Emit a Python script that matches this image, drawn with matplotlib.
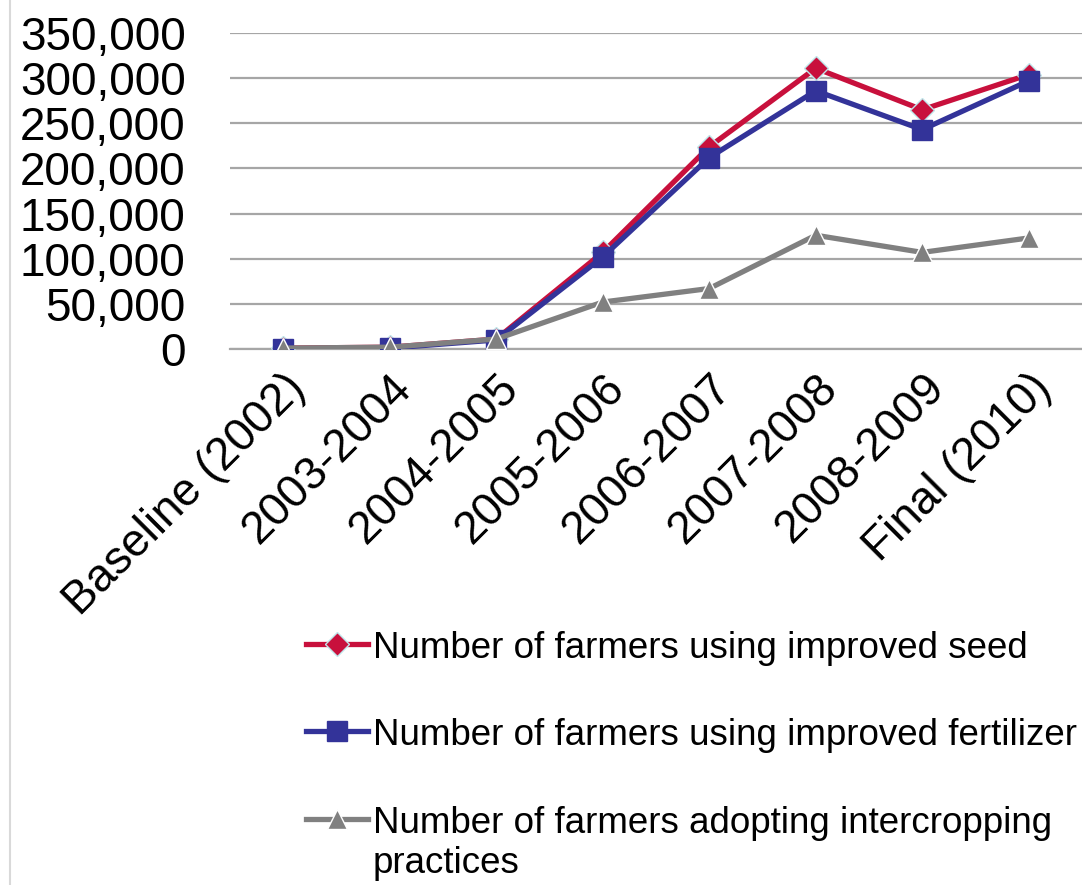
import matplotlib
matplotlib.use("Agg")
import matplotlib.pyplot as plt
from matplotlib.lines import Line2D
from matplotlib.ticker import FuncFormatter

plt.rcParams['font.family'] = ['Liberation Sans', 'DejaVu Sans']

# donnees
periodes = ["Baseline (2002)", "2003-2004", "2004-2005", "2005-2006",
            "2006-2007", "2007-2008", "2008-2009", "Final (2010)"]
semences = [1000, 2000, 11000, 107000, 224000, 311000, 265000, 304000]
engrais = [0, 1000, 10000, 102000, 212000, 286000, 243000, 297000]
intercalaire = [1000, 2000, 11000, 52000, 67000, 126000, 107000, 123000]
noms = ["Number of farmers using improved seed",
        "Number of farmers using improved fertilizer",
        "Number of farmers adopting intercropping\npractices"]
yticks = [0, 50000, 100000, 150000, 200000, 250000, 300000, 350000]

fig = plt.figure(figsize=(10.82, 8.85), dpi=100)
ax = fig.add_axes([230 / 1082, 1 - 349 / 885, 1 - 230 / 1082, (349 - 33) / 885])

x = range(len(periodes))
ax.plot(x, semences, color="#C8103C", lw=3.8, marker="D", ms=12,
        markeredgecolor="#BFE6EA", markeredgewidth=1, label=noms[0], zorder=3)
ax.plot(x, engrais, color="#333399", lw=3.8, marker="s", ms=14,
        markeredgecolor="#333399", label=noms[1], zorder=4)
ax.plot(x, intercalaire, color="#808080", lw=3.8, marker="^", ms=14,
        markeredgecolor="white", markeredgewidth=1, label=noms[2], zorder=5)

ax.set_xlim(-0.5, len(periodes) - 0.5)
ax.set_ylim(0, 350000)
ax.set_yticks(yticks)
ax.yaxis.set_major_formatter(FuncFormatter(lambda v, p: f"{int(v):,}"))
ax.set_xticks(list(x))
ax.set_xticklabels(periodes, rotation=45, ha="right", rotation_mode="anchor")
ax.tick_params(axis="both", length=0, labelsize=33)
ax.tick_params(axis="y", pad=32)
ax.tick_params(axis="x", pad=12)
ax.grid(axis="y", color="#A6A6A6", lw=1.6)
ax.set_axisbelow(True)
for s in ["top", "right", "left"]:
    ax.spines[s].set_visible(False)
ax.spines["bottom"].set_color("#A6A6A6")
ax.spines["bottom"].set_linewidth(1.6)

leg = fig.legend(loc="upper left", bbox_to_anchor=(273 / 1082, 1 - 598 / 885),
                 frameon=False, fontsize=26.5, handlelength=1.67,
                 handletextpad=0.14, labelspacing=1.42)
# aligner le symbole sur la premiere ligne du libelle
for col in leg._legend_handle_box.get_children():
    for ligne in col.get_children():
        ligne.align = "top"

# bordure grise a gauche
fig.add_artist(Line2D([10 / 1082, 10 / 1082], [0, 1], color="#D9D9D9", lw=1.5))

fig.savefig("out.png", dpi=100)
